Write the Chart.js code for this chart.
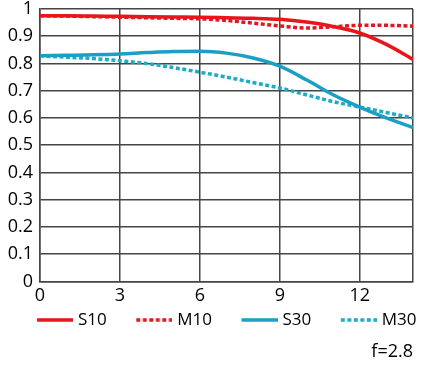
<!DOCTYPE html>
<html>
<head>
<meta charset="utf-8">
<script src="https://cdn.jsdelivr.net/npm/chart.js@4.4.1/dist/chart.umd.min.js"></script>
<style>
  html, body { margin: 0; padding: 0; background: #fff; }
  #wrap { width: 429px; height: 367px; }
</style>
</head>
<body>
<div id="wrap"><canvas id="mtf"></canvas></div>
<script>
// image height (mm) and MTF values
const positions = [0, 1, 2, 3, 4, 5, 6, 7, 8, 9, 10, 11, 12, 13, 14];
const s10 = [0.975, 0.975, 0.974, 0.973, 0.972, 0.971, 0.970, 0.968, 0.966, 0.962, 0.952, 0.936, 0.912, 0.870, 0.815];
const m10 = [0.975, 0.974, 0.972, 0.970, 0.968, 0.966, 0.964, 0.958, 0.948, 0.938, 0.930, 0.935, 0.940, 0.940, 0.937];
const s30 = [0.828, 0.830, 0.832, 0.835, 0.840, 0.844, 0.845, 0.838, 0.820, 0.790, 0.740, 0.685, 0.640, 0.600, 0.565];
const m30 = [0.828, 0.823, 0.818, 0.810, 0.800, 0.785, 0.768, 0.750, 0.730, 0.710, 0.685, 0.660, 0.640, 0.620, 0.600];
const xTicks = [0, 3, 6, 9, 12, 14];
const apertureLabel = 'f=2.8';

const RED = '#e8161b';
const RED_DASH = '#dc1a24';
const BLUE = '#1aa0c4';
const TEAL = '#1eabc6';
const GRID = '#454545';

Chart.defaults.font.family = "'Open Sans', sans-serif";

// small line swatch for the legend (line sits at the right of the image)
function swatch(color, dash) {
    const c = document.createElement('canvas');
    c.width = 64;
    c.height = 4;
    const g = c.getContext('2d');
    g.strokeStyle = color;
    g.lineWidth = 3.5;
    g.setLineDash(dash);
    g.beginPath();
    g.moveTo(28, 2);
    g.lineTo(64, 2);
    g.stroke();
    return c;
}

function series(label, values, color, dash) {
    return {
        label: label,
        data: positions.map((x, i) => ({x: x, y: values[i]})),
        borderColor: color,
        backgroundColor: color,
        borderWidth: 3.5,
        borderDash: dash,
        pointRadius: 0,
        tension: 0.4,
        cubicInterpolationMode: 'monotone',
        fill: false,
        swatch: swatch(color, dash)
    };
}

new Chart(document.getElementById('mtf'), {
    type: 'line',
    data: {
        datasets: [
            series('S10', s10, RED, []),
            series('M10', m10, RED_DASH, [4, 2.5]),
            series('S30', s30, BLUE, []),
            series('M30', m30, TEAL, [4, 2.5])
        ]
    },
    options: {
        responsive: true,
        maintainAspectRatio: false,
        animation: false,
        layout: { padding: { left: 0, right: 0, top: 0, bottom: 4 } },
        plugins: {
            tooltip: { enabled: false },
            legend: {
                position: 'bottom',
                labels: {
                    usePointStyle: true,
                    pointStyleWidth: 57,
                    padding: 5,
                    color: '#000',
                    font: { size: 17 },
                    generateLabels: function (chart) {
                        return chart.data.datasets.map((ds, i) => ({
                            text: ds.label,
                            pointStyle: ds.swatch,
                            fillStyle: ds.borderColor,
                            strokeStyle: ds.borderColor,
                            lineWidth: 0,
                            fontColor: '#000',
                            hidden: false,
                            datasetIndex: i
                        }));
                    }
                }
            },
            title: {
                display: true,
                fullSize: false,
                text: apertureLabel,
                position: 'bottom',
                align: 'end',
                color: '#000',
                font: { size: 18, weight: 'normal' },
                padding: { top: 3, bottom: 0 }
            }
        },
        scales: {
            x: {
                type: 'linear',
                min: 0,
                max: 14,
                afterBuildTicks: function (scale) {
                    scale.ticks = xTicks.map(v => ({value: v}));
                },
                afterFit: function (scale) {
                    scale.height = 25;
                    scale.paddingLeft = 0;
                    scale.paddingRight = 0;
                },
                ticks: {
                    color: '#000',
                    font: { size: 18 },
                    padding: 4,
                    maxRotation: 0,
                    autoSkip: false,
                    callback: v => v === 14 ? '' : String(v)
                },
                grid: { color: GRID, lineWidth: 1.5, drawTicks: false },
                border: { color: GRID, width: 1.5 }
            },
            y: {
                min: 0,
                max: 1,
                afterFit: function (scale) {
                    scale.width = 40;
                    scale.paddingTop = 9;
                    scale.paddingBottom = 0;
                },
                ticks: {
                    stepSize: 0.1,
                    autoSkip: false,
                    color: '#000',
                    font: { size: 18 },
                    padding: 7,
                    callback: v => String(Math.round(v * 10) / 10)
                },
                grid: { color: GRID, lineWidth: 1.5, drawTicks: false },
                border: { color: GRID, width: 1.5 }
            },
            // empty right-hand strip so the plot ends where the original does
            spacer: {
                type: 'linear',
                position: 'right',
                display: true,
                afterFit: function (scale) {
                    scale.width = 16;
                },
                ticks: { display: false },
                grid: { display: false, drawTicks: false },
                border: { display: false }
            }
        }
    }
});
</script>
</body>
</html>
